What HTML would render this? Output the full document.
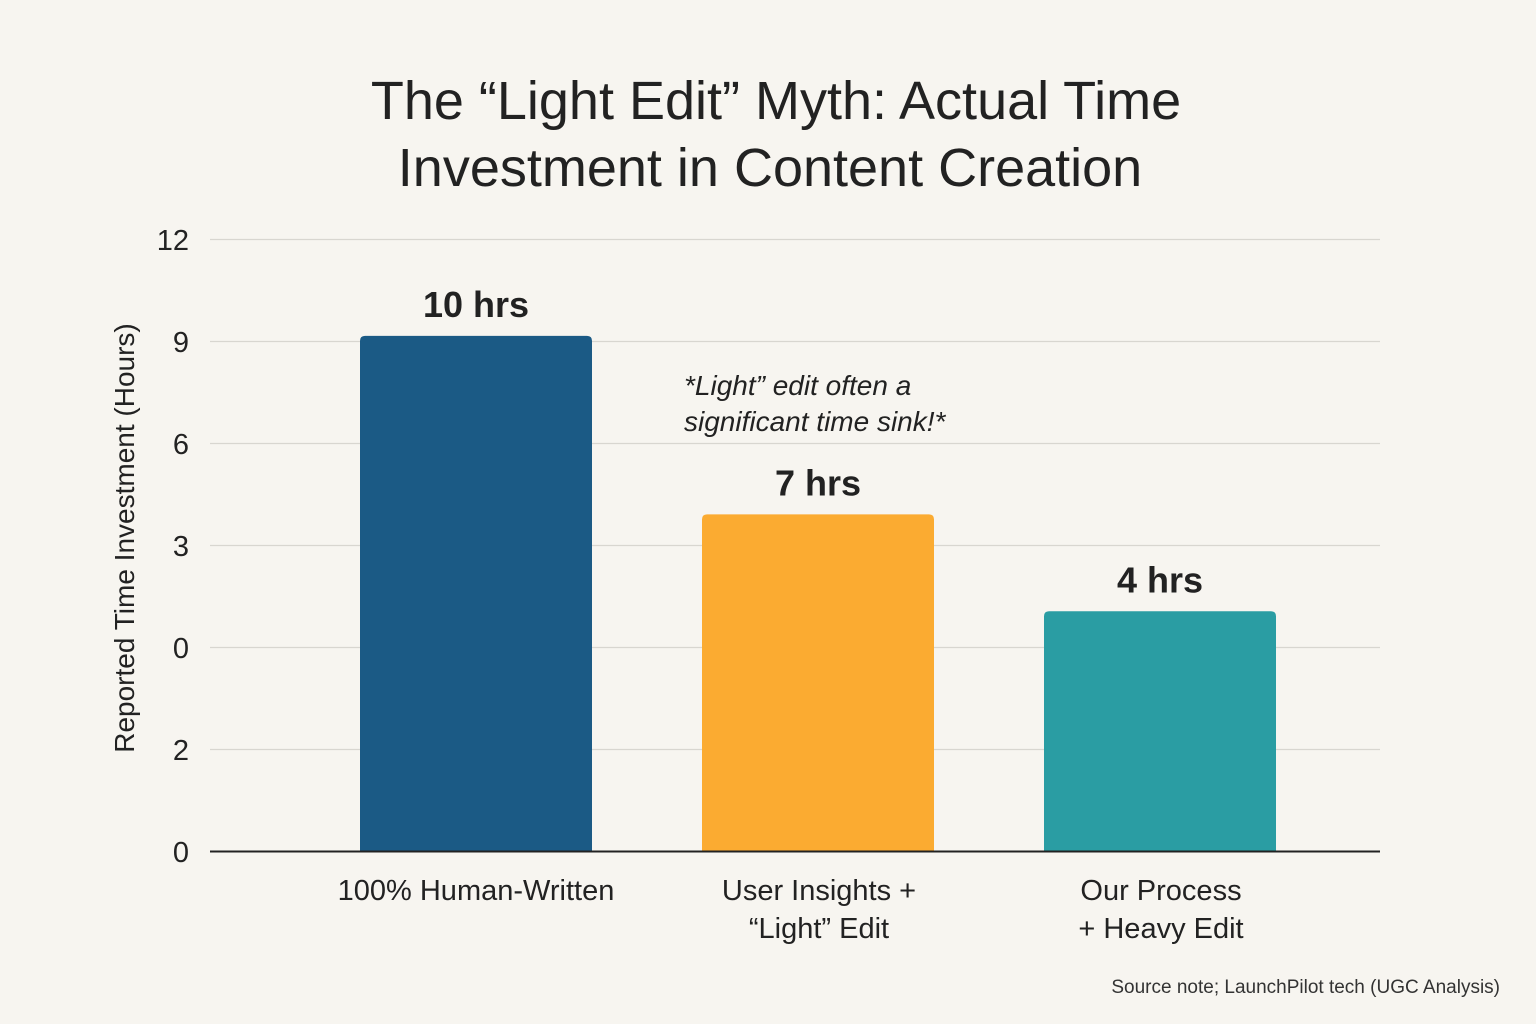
<!DOCTYPE html>
<html><head><meta charset="utf-8"><style>
html,body{margin:0;padding:0;background:#f7f5f0;}
svg{display:block;font-family:"Liberation Sans",sans-serif;}
</style></head><body>
<svg id="chart" width="1536" height="1024" viewBox="0 0 1536 1024" xmlns="http://www.w3.org/2000/svg">
<rect width="1536" height="1024" fill="#f7f5f0"/>
<g font-size="54" font-weight="500" fill="#222" text-anchor="middle">
<text x="776" y="119">The “Light Edit” Myth: Actual Time</text>
<text x="770" y="186">Investment in Content Creation</text>
</g>
<g id="grid"></g>
<g id="yticks"></g>
<text transform="translate(134,538) rotate(-90)" text-anchor="middle" font-size="28" fill="#222">Reported Time Investment (Hours)</text>
<g id="bars"></g>
<g id="values"></g>
<g id="cats"></g>
<line x1="210" x2="1380" y1="851.5" y2="851.5" stroke="#222" stroke-width="2"/>
<g font-size="28" font-style="italic" fill="#222">
<text x="684" y="395">*Light” edit often a</text>
<text x="684" y="431">significant time sink!*</text>
</g>
<text x="1500" y="993" text-anchor="end" font-size="19" fill="#333">Source note; LaunchPilot tech (UGC Analysis)</text>
</svg>
<script>
const categories = [["100% Human-Written"], ["User Insights +", "“Light” Edit"], ["Our Process", "+ Heavy Edit"]];
const values = [10.1, 6.6, 4.7];
const valueLabels = ["10 hrs", "7 hrs", "4 hrs"];
const tickValues = [0, 2, 4, 6, 8, 10, 12];
const tickLabels = ["0", "2", "0", "3", "6", "9", "12"];
const colors = ["#1b5a85", "#fbab31", "#2a9da3"];

const NS = "http://www.w3.org/2000/svg";
const plotLeft = 210, plotRight = 1380, y0 = 851, yTop = 239, yMax = 12;
const band = 342, firstCenter = 476, barW = 232;
function y(v){ return y0 - (v / yMax) * (y0 - yTop); }
function x(i){ return firstCenter + i * band; }
function mk(tag, attrs, parent){ const e = document.createElementNS(NS, tag); for (const k in attrs) e.setAttribute(k, attrs[k]); parent.appendChild(e); return e; }

const grid = document.getElementById('grid'), yt = document.getElementById('yticks');
tickValues.forEach((t, i) => {
  if (t > 0) {
    const l = mk('line', {x1: plotLeft, x2: plotRight, y1: y(t) + 0.5, y2: y(t) + 0.5, stroke: '#d8d6d0', 'stroke-width': 1.2}, grid);
    
    
  }
  const tx = mk('text', {x: 189, y: y(t) + 11, 'text-anchor': 'end', 'font-size': 29, fill: '#222'}, yt);
  tx.textContent = tickLabels[i];
  
  
});
const bars = document.getElementById('bars'), vals = document.getElementById('values'), cats = document.getElementById('cats');
values.forEach((v, i) => {
  const top = y(v);
  const r = mk('path', {d: `M${x(i)-barW/2},${y0} V${top+5} Q${x(i)-barW/2},${top} ${x(i)-barW/2+5},${top} H${x(i)+barW/2-5} Q${x(i)+barW/2},${top} ${x(i)+barW/2},${top+5} V${y0} Z`, fill: colors[i]}, bars);
  
  
  const t = mk('text', {x: x(i), y: top - 19, 'text-anchor': 'middle', 'font-size': 36, 'font-weight': 'bold', fill: '#222'}, vals);
  t.textContent = valueLabels[i];
  
  
  categories[i].forEach((line, j) => {
    const c = mk('text', {x: x(i) + (i === 0 ? 0 : 1), y: 900 + j * 38, 'text-anchor': 'middle', 'font-size': 29, fill: '#222'}, cats);
    c.textContent = line;
    
    
  });
});
</script>
</body></html>
